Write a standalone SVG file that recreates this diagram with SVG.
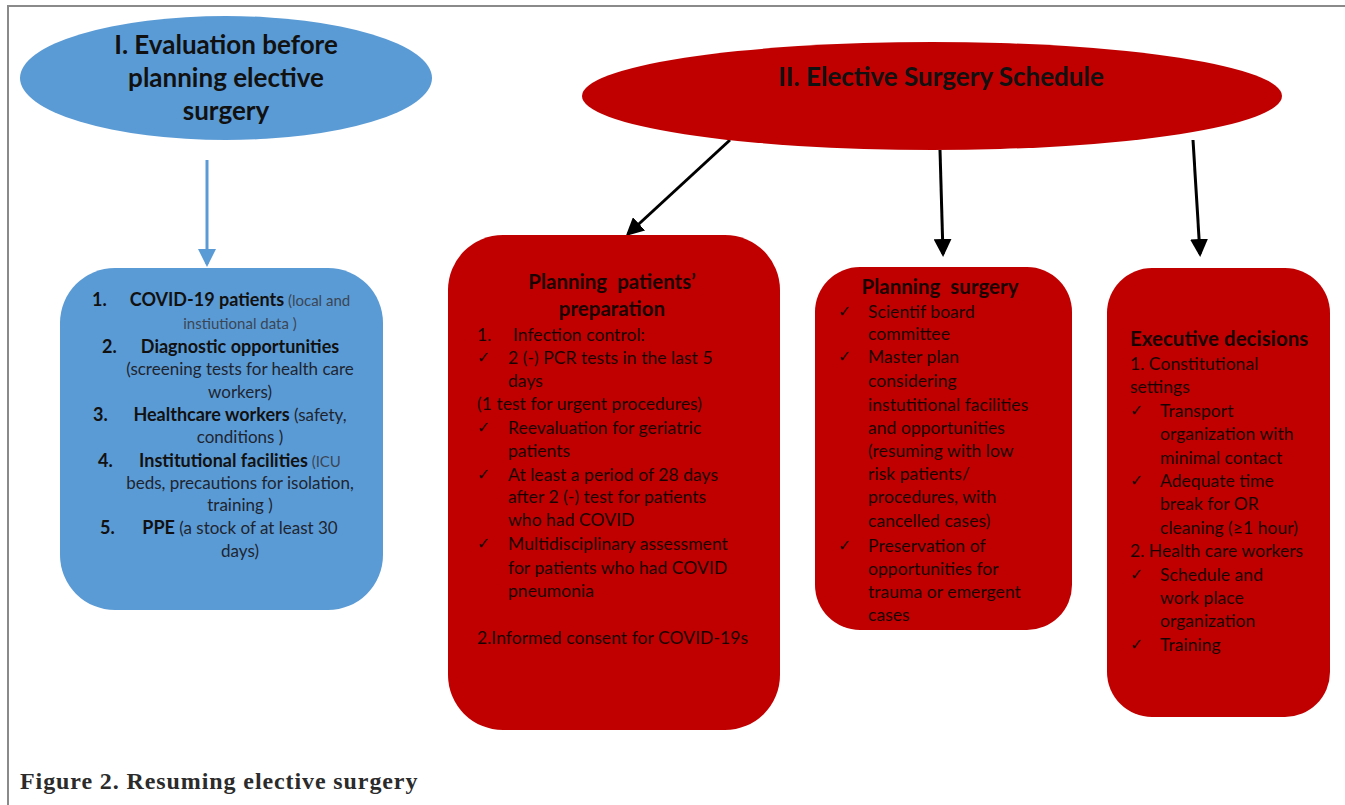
<svg xmlns="http://www.w3.org/2000/svg" width="1345" height="805" viewBox="0 0 1345 805">
<defs>
<marker id="ah-black" markerWidth="6" markerHeight="6" refX="5" refY="3" orient="auto" markerUnits="strokeWidth">
<path d="M0,0 L6,3 L0,6 Z" fill="#000"/>
</marker>
<marker id="ah-blue" markerWidth="6" markerHeight="6" refX="5" refY="3" orient="auto" markerUnits="strokeWidth">
<path d="M0,0 L6,3 L0,6 Z" fill="#5b9bd5"/>
</marker>
</defs>
<style>
.frame{stroke:#8a8a8a;stroke-width:2;fill:none}
.blue{fill:#5b9bd5}
.red{fill:#c00000}
.title{font-family:"Lato","Liberation Sans",sans-serif;font-weight:bold;font-size:26px;fill:#111}
.bt{font-family:"Lato","Liberation Sans",sans-serif;font-size:17px;fill:#1e2530}
.bb{font-weight:bold;font-size:18px;fill:#111}
.bs{font-size:15px;fill:#3a4656}
.rt{font-family:"Lato","Liberation Sans",sans-serif;font-size:17.6px;fill:#1a0000}
.rh{font-weight:bold;font-size:20.5px}
.ck{font-family:"DejaVu Sans",sans-serif;font-weight:bold;font-size:16px;fill:#1a0000}
.cap{font-family:"Liberation Serif","DejaVu Serif",serif;font-weight:bold;font-size:24px;letter-spacing:0.9px;fill:#2b2b2b}
.conn{fill:none;stroke-width:3}
</style>
<rect width="1345" height="805" fill="#fff"/>
<path class="frame" d="M8,805 L8,6 L1345,6"/>

<g id="connectors">
<line class="conn" x1="207" y1="160" x2="207" y2="264" stroke="#5b9bd5" marker-end="url(#ah-blue)"/>
<line class="conn" x1="730" y1="140" x2="628" y2="234" stroke="#000" marker-end="url(#ah-black)"/>
<line class="conn" x1="940" y1="150" x2="943" y2="254" stroke="#000" marker-end="url(#ah-black)"/>
<line class="conn" x1="1193" y1="140" x2="1200" y2="254" stroke="#000" marker-end="url(#ah-black)"/>
</g>

<g id="node-evaluation">
<ellipse class="blue" cx="226" cy="78" rx="206" ry="62"/>
<text class="title" text-anchor="middle"><tspan x="226" y="54">I. Evaluation before</tspan><tspan x="226" y="87">planning elective</tspan><tspan x="226" y="120">surgery</tspan></text>
</g>

<g id="node-evaluation-list">
<rect class="blue" x="60" y="268" width="323" height="342" rx="55"/>
<g class="bt">
<text class="bb" x="92" y="306">1.</text>
<text x="240" y="306" text-anchor="middle"><tspan class="bb">COVID-19 patients</tspan><tspan class="bs"> (local and</tspan></text>
<text class="bs" x="240" y="329" text-anchor="middle">instiutional data )</text>
<text class="bb" x="102" y="353">2.</text>
<text class="bb" x="240" y="353" text-anchor="middle">Diagnostic opportunities</text>
<text x="240" y="375" text-anchor="middle">(screening tests for health care</text>
<text x="240" y="398" text-anchor="middle">workers)</text>
<text class="bb" x="93" y="421">3.</text>
<text x="240" y="421" text-anchor="middle"><tspan class="bb">Healthcare workers</tspan> (safety,</text>
<text x="240" y="443" text-anchor="middle">conditions )</text>
<text class="bb" x="98" y="467">4.</text>
<text x="240" y="467" text-anchor="middle"><tspan class="bb">Institutional facilities</tspan><tspan class="bs"> (ICU</tspan></text>
<text x="240" y="489" text-anchor="middle">beds, precautions for isolation,</text>
<text x="240" y="511" text-anchor="middle">training )</text>
<text class="bb" x="100" y="534">5.</text>
<text x="240" y="534" text-anchor="middle"><tspan class="bb">PPE</tspan> (a stock of at least 30</text>
<text x="240" y="557" text-anchor="middle">days)</text>
</g>
</g>

<g id="node-schedule">
<ellipse class="red" cx="932" cy="96" rx="350" ry="54"/>
<text class="title" x="941" y="86" text-anchor="middle" font-size="27">II. Elective Surgery Schedule</text>
</g>

<g id="node-patients">
<rect class="red" x="448" y="235" width="332" height="495" rx="55"/>
<g class="rt">
<text class="rh" x="612" y="289" text-anchor="middle" xml:space="preserve">Planning  patients’</text>
<text class="rh" x="612" y="316" text-anchor="middle">preparation</text>
<text x="477" y="341">1.</text>
<text x="513" y="341">Infection control:</text>
<text class="ck" x="477" y="363">✓</text>
<text x="508" y="364">2 (-) PCR tests in the last 5</text>
<text x="508" y="387">days</text>
<text x="477" y="410">(1 test for urgent procedures)</text>
<text class="ck" x="477" y="433">✓</text>
<text x="508" y="434">Reevaluation for geriatric</text>
<text x="508" y="457">patients</text>
<text class="ck" x="477" y="480">✓</text>
<text x="508" y="481">At least a period of 28 days</text>
<text x="508" y="503">after 2 (-) test for patients</text>
<text x="508" y="526">who had COVID</text>
<text class="ck" x="477" y="549">✓</text>
<text x="508" y="550">Multidisciplinary assessment</text>
<text x="508" y="574">for patients who had COVID</text>
<text x="508" y="597">pneumonia</text>
<text x="477" y="644">2.Informed consent for COVID-19s</text>
</g>
</g>

<g id="node-surgery">
<rect class="red" x="815" y="267" width="257" height="363" rx="45"/>
<g class="rt">
<text class="rh" x="940" y="294" text-anchor="middle" xml:space="preserve">Planning  surgery</text>
<text class="ck" x="838" y="317">✓</text>
<text x="868" y="318">Scientif board</text>
<text x="868" y="340">committee</text>
<text class="ck" x="838" y="362">✓</text>
<text x="868" y="363">Master plan</text>
<text x="868" y="387">considering</text>
<text x="868" y="411">instutitional facilities</text>
<text x="868" y="434">and opportunities</text>
<text x="868" y="457">(resuming with low</text>
<text x="868" y="480">risk patients/</text>
<text x="868" y="503">procedures, with</text>
<text x="868" y="527">cancelled cases)</text>
<text class="ck" x="838" y="551">✓</text>
<text x="868" y="552">Preservation of</text>
<text x="868" y="575">opportunities for</text>
<text x="868" y="598">trauma or emergent</text>
<text x="868" y="621">cases</text>
</g>
</g>

<g id="node-executive">
<rect class="red" x="1107" y="268" width="223" height="449" rx="45"/>
<g class="rt">
<text class="rh" x="1130" y="346">Executive decisions</text>
<text x="1130" y="370">1. Constitutional</text>
<text x="1130" y="393">settings</text>
<text class="ck" x="1130" y="416">✓</text>
<text x="1160" y="417">Transport</text>
<text x="1160" y="440">organization with</text>
<text x="1160" y="464">minimal contact</text>
<text class="ck" x="1130" y="486">✓</text>
<text x="1160" y="487">Adequate time</text>
<text x="1160" y="510">break for OR</text>
<text x="1160" y="534">cleaning (≥1 hour)</text>
<text x="1130" y="557">2. Health care workers</text>
<text class="ck" x="1130" y="580">✓</text>
<text x="1160" y="581">Schedule and</text>
<text x="1160" y="604">work place</text>
<text x="1160" y="627">organization</text>
<text class="ck" x="1130" y="650">✓</text>
<text x="1160" y="651">Training</text>
</g>
</g>

<text class="cap" x="20" y="789">Figure 2. Resuming elective surgery</text>
</svg>
